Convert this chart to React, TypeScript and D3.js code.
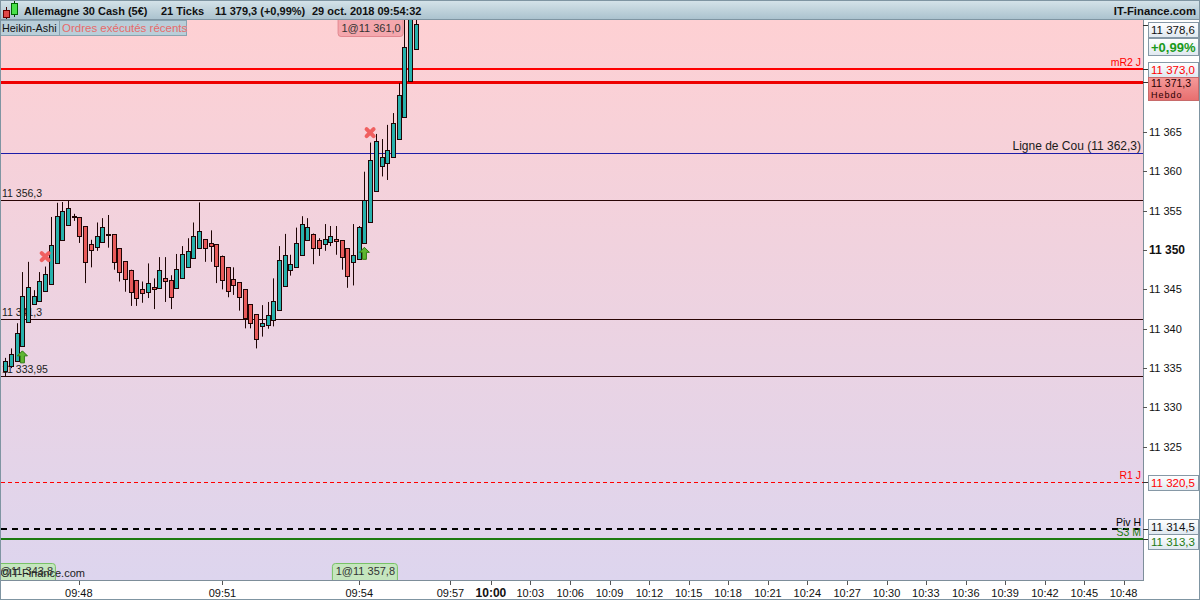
import React, { useEffect, useRef } from 'react'
import * as d3 from 'd3'

// Heikin-Ashi candles, 21 ticks each
const opens = [
    11334.6, 11335.3, 11335.9, 11337.7, 11340.9, 11343.1, 11343.6, 11344.8, 11345.8, 11348.3,
    11351.3, 11353.2, 11354.3, 11354.2, 11353.05, 11350.8, 11350.4, 11351.05, 11352.0, 11352.0,
    11350.2, 11348.6, 11347.5, 11346.2, 11345.05, 11344.7, 11345.25, 11345.15, 11346.4, 11346.2,
    11345.15, 11346.4, 11347.9, 11348.95, 11350.35, 11351.4, 11350.9, 11350.75, 11349.3, 11347.8,
    11346.3, 11345.9, 11345.0, 11343.1, 11341.85, 11340.3, 11340.45, 11341.1, 11342.3, 11345.5,
    11347.4, 11347.8, 11349.3, 11351.2, 11352.1, 11351.25, 11350.75, 11351.0, 11351.4, 11351.25,
    11350.2, 11348.45, 11348.8, 11350.85, 11353.6, 11357.55, 11360.6, 11361.1, 11361.9, 11364.05,
    11366.9, 11371.4, 11375.5
]
const highs = [
    11336.3, 11337.5, 11340.7, 11347.2, 11348.5, 11344.9, 11347.2, 11347.9, 11354.2, 11356.0,
    11356.1, 11356.3, 11354.6, 11354.2, 11353.05, 11351.3, 11353.5, 11354.05, 11354.45, 11352.0,
    11350.2, 11348.6, 11347.5, 11346.2, 11346.0, 11348.3, 11346.4, 11349.1, 11349.1, 11346.8,
    11349.5, 11350.5, 11351.5, 11353.5, 11356.05, 11351.4, 11352.5, 11350.75, 11349.3, 11347.8,
    11347.8, 11345.9, 11345.0, 11343.1, 11341.85, 11343.0, 11343.4, 11346.4, 11350.5, 11352.05,
    11349.4, 11352.85, 11354.3, 11354.05, 11352.1, 11351.5, 11353.3, 11353.05, 11353.05, 11351.25,
    11350.2, 11353.3, 11353.05, 11359.95, 11363.65, 11364.75, 11364.1, 11365.9, 11367.4, 11371.2,
    11381.0, 11383.0, 11379.3
]
const lows = [
    11333.95, 11335.0, 11335.9, 11337.7, 11340.9, 11343.1, 11343.6, 11344.8, 11345.8, 11348.3,
    11351.3, 11353.2, 11353.7, 11350.9, 11345.8, 11347.8, 11349.9, 11351.05, 11350.3, 11347.5,
    11346.0, 11344.7, 11342.9, 11342.9, 11343.3, 11343.9, 11342.5, 11345.15, 11343.4, 11342.5,
    11345.15, 11346.4, 11347.9, 11348.95, 11350.35, 11348.5, 11348.5, 11345.8, 11345.0, 11344.0,
    11344.3, 11342.3, 11340.05, 11340.05, 11337.5, 11339.0, 11340.0, 11340.3, 11342.3, 11345.5,
    11346.75, 11347.8, 11349.3, 11351.2, 11348.2, 11349.25, 11349.9, 11350.5, 11349.4, 11347.5,
    11345.2, 11345.5, 11348.8, 11350.85, 11353.6, 11357.55, 11359.35, 11358.9, 11361.9, 11364.05,
    11366.9, 11371.4, 11375.5
]
const closes = [
    11335.9, 11336.8, 11339.4, 11344.1, 11345.3, 11344.1, 11346.1, 11346.9, 11350.7, 11354.3,
    11355.0, 11355.3, 11354.2, 11351.8, 11348.5, 11350.0, 11351.8, 11352.9, 11351.9, 11348.4,
    11347.1, 11346.3, 11344.7, 11343.9, 11344.5, 11345.8, 11344.95, 11347.5, 11346.0, 11344.1,
    11347.55, 11349.45, 11349.9, 11351.75, 11352.45, 11350.2, 11350.5, 11348.0, 11346.3, 11344.7,
    11345.5, 11344.0, 11341.3, 11340.7, 11338.65, 11340.7, 11341.7, 11343.55, 11348.7, 11349.4,
    11348.2, 11350.9, 11353.3, 11352.9, 11350.3, 11350.2, 11351.4, 11351.75, 11351.1, 11349.1,
    11346.6, 11349.35, 11352.9, 11356.35, 11361.45, 11363.85, 11361.8, 11362.7, 11366.2, 11369.7,
    11375.85, 11381.5, 11378.7
]

// executed orders: candle index, side, label
const orderIdx = [3, 7, 63, 64]
const orderSide = ['buy', 'sell', 'buy', 'sell']
const orderBoxes = [
    { idx: 3, text: '1@11 343,8', side: 'buy' },
    { idx: 63, text: '1@11 357,8', side: 'buy' },
    { idx: 64, text: '1@11 361,0', side: 'sell' }
]

// horizontal levels
const levelValues = [11373.0, 11371.3, 11362.3, 11356.3, 11341.3, 11333.95, 11320.5, 11314.5, 11313.3]
const levelLabels = ['mR2 J', '', 'Ligne de Cou (11 362,3)', '11 356,3', '11 341,3', '11 333,95', 'R1 J', 'Piv H', 'S3 M']
const levelKinds = ['mr2', 'hebdo', 'cou', 'hl', 'hl', 'hl', 'r1', 'piv', 's3']

// right axis boxes
const boxValues = [11378.6, 11373.0, 11371.3, 11320.5, 11314.5, 11313.3]
const boxLabels = ['11 378,6', '11 373,0', '11 371,3', '11 320,5', '11 314,5', '11 313,3']
const boxKinds = ['last', 'mr2', 'hebdo', 'r1', 'piv', 's3']
const changeLabel = '+0,99%'

const priceTicks = [11325, 11330, 11335, 11340, 11345, 11350, 11355, 11360, 11365, 11370, 11375]

// time axis (candle slot positions, future part is clock time)
const timeLabels = ['09:48', '09:51', '09:54', '09:57', '10:00', '10:03', '10:06', '10:09', '10:12', '10:15', '10:18',
    '10:21', '10:24', '10:27', '10:30', '10:33', '10:36', '10:39', '10:42', '10:45', '10:48']
const timeSlots = [12.9, 38.1, 62.1, 78.1, 85.2, 92.1, 99.1, 106.0, 113.0, 119.9, 126.8,
    133.8, 140.7, 147.7, 154.6, 161.5, 168.5, 175.4, 182.4, 189.3, 196.2]

const headerParts = ['Allemagne 30 Cash (5€)', '21 Ticks', '11 379,3 (+0,99%)', '29 oct. 2018 09:54:32']

const FONT = '"Liberation Sans", Arial, sans-serif'
const W = 1200
const H = 600
const plot = { left: 1, right: 1143, top: 20, bottom: 580 }

const levelStyle: Record<string, any> = {
    mr2: { stroke: '#ff0000', width: 2, dash: null, text: '#ff0000', side: 'right', size: 10.5 },
    hebdo: { stroke: '#ee0000', width: 3, dash: null, text: '#000', side: 'none', size: 10.5 },
    cou: { stroke: '#1c1ca8', width: 1, dash: null, text: '#1a1a1a', side: 'right', size: 12 },
    hl: { stroke: '#2a0505', width: 1, dash: null, text: '#1a1a1a', side: 'left', size: 10.5 },
    r1: { stroke: '#ff0000', width: 1, dash: '4,3', text: '#ff0000', side: 'right', size: 10.5 },
    piv: { stroke: '#000', width: 2, dash: '6,5', text: '#000', side: 'right', size: 10.5 },
    s3: { stroke: '#1c7a10', width: 2, dash: null, text: '#1c7a10', side: 'right', size: 10.5 }
}

const App: React.FC = () => {
    const ref = useRef<SVGSVGElement>(null)
    useEffect(() => {
        const svg = d3.select(ref.current)
        svg.selectAll('*').remove()
        const loc = d3.formatLocale({ decimal: ',', thousands: ' ', grouping: [3], currency: ['', ''] })
        const fmtInt = loc.format(',d')

        const x = d3.scaleLinear().domain([0, 200]).range([5.3, 5.3 + 200 * 5.7])
        const y = d3.scaleLinear().domain([11313.3, 11373.0]).range([538.9, 69])

        const defs = svg.append('defs')
        const bg = defs.append('linearGradient').attr('id', 'bg').attr('x1', 0).attr('x2', 0).attr('y1', 0).attr('y2', 1)
        bg.append('stop').attr('offset', '0%').attr('stop-color', '#fed0d3')
        bg.append('stop').attr('offset', '100%').attr('stop-color', '#ddd5ee')
        const hd = defs.append('linearGradient').attr('id', 'hd').attr('x1', 0).attr('x2', 0).attr('y1', 0).attr('y2', 1)
        hd.append('stop').attr('offset', '0%').attr('stop-color', '#d6e4ea')
        hd.append('stop').attr('offset', '100%').attr('stop-color', '#a9c1cd')
        const bx = defs.append('linearGradient').attr('id', 'bx').attr('x1', 0).attr('x2', 0).attr('y1', 0).attr('y2', 1)
        bx.append('stop').attr('offset', '0%').attr('stop-color', '#ffffff')
        bx.append('stop').attr('offset', '100%').attr('stop-color', '#dfe8f0')
        const hb = defs.append('linearGradient').attr('id', 'hb').attr('x1', 0).attr('x2', 0).attr('y1', 0).attr('y2', 1)
        hb.append('stop').attr('offset', '0%').attr('stop-color', '#f59a9a')
        hb.append('stop').attr('offset', '100%').attr('stop-color', '#e86e6e')
        defs.append('clipPath').attr('id', 'pc').append('rect')
            .attr('x', plot.left).attr('y', plot.top)
            .attr('width', plot.right - plot.left).attr('height', plot.bottom - plot.top)

        svg.append('rect').attr('width', W).attr('height', H).attr('fill', '#fff')
        svg.append('rect').attr('x', plot.left).attr('y', plot.top)
            .attr('width', plot.right - plot.left).attr('height', plot.bottom - plot.top)
            .attr('fill', 'url(#bg)')

        const pg = svg.append('g').attr('clip-path', 'url(#pc)')

        // levels
        const levels = levelValues.map((v, i) => ({ v, label: levelLabels[i], st: levelStyle[levelKinds[i]] }))
        pg.selectAll('line.lvl').data(levels).join('line')
            .attr('x1', plot.left).attr('x2', plot.right)
            .attr('y1', (d) => Math.round(y(d.v)) + (d.st.width % 2 ? 0.5 : 0))
            .attr('y2', (d) => Math.round(y(d.v)) + (d.st.width % 2 ? 0.5 : 0))
            .attr('stroke', (d) => d.st.stroke)
            .attr('stroke-width', (d) => d.st.width)
            .attr('stroke-dasharray', (d) => d.st.dash)

        pg.selectAll('text.lvl').data(levels.filter((d) => d.st.side !== 'none')).join('text')
            .attr('x', (d) => (d.st.side === 'left' ? 2 : plot.right - 2))
            .attr('y', (d) => Math.round(y(d.v)) - 3)
            .attr('text-anchor', (d) => (d.st.side === 'left' ? 'start' : 'end'))
            .attr('fill', (d) => d.st.text)
            .style('font', (d) => `${d.st.size}px ${FONT}`)
            .text((d) => d.label)

        // candles
        const candles = opens.map((o, i) => ({ i, o, h: highs[i], l: lows[i], c: closes[i] }))
        const cg = pg.append('g')
        cg.selectAll('line').data(candles).join('line')
            .attr('x1', (d) => Math.round(x(d.i)) + 0.5)
            .attr('x2', (d) => Math.round(x(d.i)) + 0.5)
            .attr('y1', (d) => y(d.h))
            .attr('y2', (d) => y(d.l))
            .attr('stroke', '#1e0404')
        cg.selectAll('rect').data(candles).join('rect')
            .attr('x', (d) => Math.round(x(d.i)) - 1.5)
            .attr('width', 4)
            .attr('y', (d) => Math.round(y(Math.max(d.o, d.c))) + 0.5)
            .attr('height', (d) => Math.max(1, Math.round(y(Math.min(d.o, d.c)) - y(Math.max(d.o, d.c)))))
            .attr('fill', (d) => (d.c >= d.o ? '#27b1ac' : '#e85a5a'))
            .attr('stroke', '#1e0404')
            .attr('stroke-width', 1)

        // order markers
        const marks = orderIdx.map((idx, k) => ({ idx, side: orderSide[k] }))
        marks.forEach((m) => {
            const cx = x(m.idx)
            if (m.side === 'buy') {
                const top = y(lows[m.idx]) + 4
                const p = d3.path()
                p.moveTo(cx, top)
                p.lineTo(cx + 5, top + 5)
                p.lineTo(cx + 2, top + 5)
                p.lineTo(cx + 2, top + 12)
                p.lineTo(cx - 2, top + 12)
                p.lineTo(cx - 2, top + 5)
                p.lineTo(cx - 5, top + 5)
                p.closePath()
                pg.append('path').attr('d', p.toString())
                    .attr('fill', '#5fb632').attr('stroke', '#2f7a12').attr('stroke-width', 1)
            } else {
                const cy = y(highs[m.idx]) - 10
                const p = d3.path()
                p.moveTo(cx - 3.5, cy - 3.5)
                p.lineTo(cx + 3.5, cy + 3.5)
                p.moveTo(cx + 3.5, cy - 3.5)
                p.lineTo(cx - 3.5, cy + 3.5)
                pg.append('path').attr('d', p.toString())
                    .attr('stroke', '#f06060').attr('stroke-width', 4).attr('stroke-linecap', 'round')
            }
        })

        // order boxes
        orderBoxes.forEach((b) => {
            const cx = x(b.idx)
            const bw = 65
            const top = b.side === 'sell' ? plot.top - 4 : plot.bottom - 17
            pg.append('rect').attr('x', cx - bw / 2 + 0.5).attr('y', top + 0.5)
                .attr('width', bw).attr('height', 20).attr('rx', 3)
                .attr('fill', b.side === 'sell' ? '#f4a7ad' : '#c5e6be')
                .attr('stroke', b.side === 'sell' ? '#e2878f' : '#78c266')
            pg.append('text').attr('x', cx + 1).attr('y', b.side === 'sell' ? plot.top + 12 : plot.bottom - 5)
                .attr('text-anchor', 'middle').attr('fill', '#333')
                .style('font', `11px ${FONT}`).text(b.text)
        })
        // watermark over the bottom-left box
        pg.append('text').attr('x', 1).attr('y', 577).attr('fill', '#222')
            .style('font', `11px ${FONT}`).text('©IT-Finance.com')

        // legend boxes
        svg.append('rect').attr('x', 0.5).attr('y', 20.5).attr('width', 59).attr('height', 15)
            .attr('fill', '#b9ced9').attr('stroke', '#8aa3b0')
        svg.append('text').attr('x', 2).attr('y', 32).attr('fill', '#111')
            .style('font', `10.8px ${FONT}`).text('Heikin-Ashi')
        svg.append('rect').attr('x', 59.5).attr('y', 20.5).attr('width', 127).attr('height', 15)
            .attr('fill', '#b9ced9').attr('stroke', '#8aa3b0')
        svg.append('text').attr('x', 62).attr('y', 32).attr('fill', '#e86a6a')
            .style('font', `11.5px ${FONT}`).text('Ordres exécutés récents')

        // frame lines
        svg.append('line').attr('x1', plot.right + 0.5).attr('x2', plot.right + 0.5)
            .attr('y1', plot.top).attr('y2', plot.bottom).attr('stroke', '#7d8e9a')
        svg.append('line').attr('x1', 0).attr('x2', plot.right + 1)
            .attr('y1', plot.bottom + 0.5).attr('y2', plot.bottom + 0.5).attr('stroke', '#7d8e9a')
        svg.append('line').attr('x1', 0.5).attr('x2', 0.5)
            .attr('y1', plot.top).attr('y2', H).attr('stroke', '#7d8e9a')

        // right boxes, stacked to avoid overlaps
        const bh = 15
        const boxes = boxValues.map((v, i) => ({
            v, label: boxLabels[i], kind: boxKinds[i],
            h: boxKinds[i] === 'hebdo' ? 23 : bh,
            top: y(v) - bh / 2
        }))
        boxes[0].top = Math.max(boxes[0].top, plot.top + 2)
        const change = { top: boxes[0].top + bh + 1, h: 17 }
        let prevBottom = change.top + change.h
        for (let k = 1; k < boxes.length; k++) {
            if (boxes[k].top < prevBottom) {
                const overlap = prevBottom - boxes[k].top
                if (k > 2 && boxKinds[k - 1] !== 'hebdo') {
                    boxes[k - 1].top -= overlap / 2
                    boxes[k].top += overlap / 2
                } else {
                    boxes[k].top = prevBottom
                }
            }
            prevBottom = boxes[k].top + boxes[k].h
        }

        // price axis ticks (hidden where a box sits)
        const busy = [...boxes.map((b) => [b.top, b.top + b.h]), [change.top, change.top + change.h]]
        const ticks = priceTicks.filter((t) => !busy.some(([a, b]) => y(t) > a - 10 && y(t) < b + 10))
        const ax = svg.append('g')
        ax.selectAll('line').data(ticks).join('line')
            .attr('x1', plot.right).attr('x2', plot.right + 4)
            .attr('y1', (d) => Math.round(y(d)) + 0.5).attr('y2', (d) => Math.round(y(d)) + 0.5)
            .attr('stroke', '#555')
        ax.selectAll('text').data(ticks).join('text')
            .attr('x', plot.right + 6).attr('y', (d) => Math.round(y(d)) + 4)
            .attr('fill', '#111')
            .style('font', (d) => `${d % 50 === 0 ? 'bold 12px' : '11px'} ${FONT}`)
            .text((d) => fmtInt(d))

        const textColor: Record<string, string> = {
            last: '#111', mr2: '#ff0000', hebdo: '#2a0000', r1: '#ff0000', piv: '#111', s3: '#1c7a10'
        }
        boxes.forEach((b) => {
            const top = Math.round(b.top)
            svg.append('line').attr('x1', plot.right).attr('x2', plot.right + 5)
                .attr('y1', Math.round(y(b.v)) + 0.5).attr('y2', Math.round(y(b.v)) + 0.5)
                .attr('stroke', '#333')
            svg.append('rect').attr('x', plot.right + 5.5).attr('y', top + 0.5)
                .attr('width', 50).attr('height', b.h)
                .attr('fill', b.kind === 'hebdo' ? 'url(#hb)' : 'url(#bx)')
                .attr('stroke', b.kind === 'hebdo' ? '#c86a6a' : '#8698a6')
            if (b.kind === 'hebdo') {
                svg.append('text').attr('x', plot.right + 8).attr('y', top + 10)
                    .attr('fill', textColor[b.kind]).style('font', `10.5px ${FONT}`).text(b.label)
                svg.append('text').attr('x', plot.right + 8).attr('y', top + 21)
                    .attr('fill', '#2a0000').attr('letter-spacing', 1)
                    .style('font', `9px ${FONT}`).text('Hebdo')
            } else {
                svg.append('text').attr('x', plot.right + 8).attr('y', top + 12)
                    .attr('fill', textColor[b.kind]).style('font', `11.5px ${FONT}`).text(b.label)
            }
        })
        svg.append('rect').attr('x', plot.right + 5.5).attr('y', Math.round(change.top) + 0.5)
            .attr('width', 50).attr('height', change.h).attr('fill', 'url(#bx)').attr('stroke', '#8698a6')
        svg.append('text').attr('x', plot.right + 8).attr('y', Math.round(change.top) + 14)
            .attr('fill', '#1a9a1a').style('font', `bold 13px ${FONT}`).text(changeLabel)

        // time axis
        const tg = svg.append('g')
        const tdata = timeLabels.map((t, i) => ({ t, s: timeSlots[i] }))
        tg.selectAll('line').data(tdata).join('line')
            .attr('x1', (d) => Math.round(x(d.s)) + 0.5).attr('x2', (d) => Math.round(x(d.s)) + 0.5)
            .attr('y1', plot.bottom + 1).attr('y2', plot.bottom + 5).attr('stroke', '#555')
        tg.selectAll('text').data(tdata).join('text')
            .attr('x', (d) => x(d.s)).attr('y', 597).attr('text-anchor', 'middle')
            .attr('fill', '#111')
            .style('font', (d) => `${d.t.endsWith(':00') ? 'bold 12px' : '11px'} ${FONT}`)
            .text((d) => d.t)

        // header
        svg.append('rect').attr('width', W).attr('height', 20).attr('fill', 'url(#hd)')
        svg.append('line').attr('x1', 0).attr('x2', W).attr('y1', 19.5).attr('y2', 19.5).attr('stroke', '#7f95a2')
        svg.append('line').attr('x1', 6.5).attr('x2', 6.5).attr('y1', 7).attr('y2', 19).attr('stroke', '#400')
        svg.append('rect').attr('x', 3.5).attr('y', 10.5).attr('width', 6).attr('height', 7)
            .attr('fill', '#e04848').attr('stroke', '#600')
        svg.append('line').attr('x1', 14.5).attr('x2', 14.5).attr('y1', 1).attr('y2', 17).attr('stroke', '#040')
        svg.append('rect').attr('x', 11.5).attr('y', 3.5).attr('width', 6).attr('height', 11)
            .attr('fill', '#48e048').attr('stroke', '#060')
        const hx = [24, 161, 215, 312]
        headerParts.forEach((t, i) => {
            svg.append('text').attr('x', hx[i]).attr('y', 15).attr('fill', '#111')
                .style('font', `bold 11px ${FONT}`).text(t)
        })
        svg.append('text').attr('x', W - 4).attr('y', 15).attr('text-anchor', 'end').attr('fill', '#111')
            .style('font', `bold 11.3px ${FONT}`).text('IT-Finance.com')

        // outer border
        svg.append('rect').attr('x', 0.5).attr('y', 0.5).attr('width', W - 1).attr('height', H - 1)
            .attr('fill', 'none').attr('stroke', '#7f95a2')
    }, [])
    return (
        <div style={{ position: 'fixed', left: 0, top: 0, width: W, height: H }}>
            <svg ref={ref} width={W} height={H} viewBox={`0 0 ${W} ${H}`}></svg>
        </div>
    )
}

export default App
